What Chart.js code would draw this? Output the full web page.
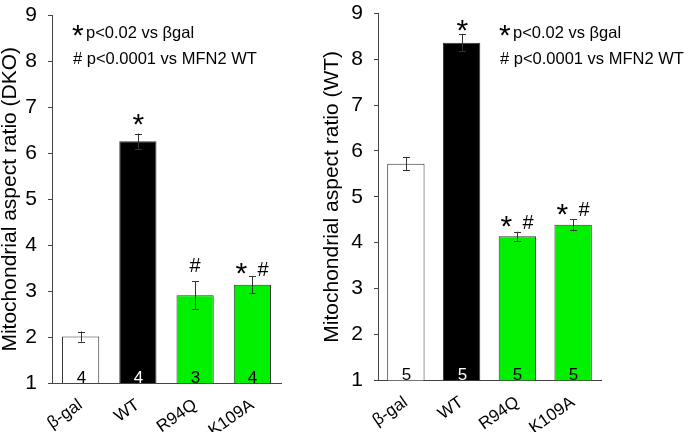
<!DOCTYPE html>
<html><head><meta charset="utf-8">
<script src="https://cdn.jsdelivr.net/npm/chart.js@4"></script>
<style>
body{margin:0;background:#fff;width:688px;height:432px;overflow:hidden;position:relative}
#c1{position:absolute;left:0;top:0}
#c2{position:absolute;left:322px;top:0}
</style></head><body>
<canvas id="c1" width="322" height="432"></canvas>
<canvas id="c2" width="366" height="432"></canvas>
<script>
// ---- data ----
const categories = ['β-gal', 'WT', 'R94Q', 'K109A'];
const dkoMeans  = [2.01, 6.26, 2.91, 3.14];
const dkoErrors = [0.11, 0.17, 0.30, 0.19];
const dkoN      = ['4', '4', '3', '4'];
const dkoStars  = ['', '*', '', '*'];
const dkoHashes = ['', '', '#', '#'];
const wtMeans   = [5.72, 8.36, 4.14, 4.39];
const wtErrors  = [0.14, 0.19, 0.10, 0.12];
const wtN       = ['5', '5', '5', '5'];
const wtStars   = ['', '*', '*', '*'];
const wtHashes  = ['', '', '#', '#'];
const yTicks    = [1, 2, 3, 4, 5, 6, 7, 8, 9];
const legendLine1 = 'p<0.02 vs βgal';
const legendLine2 = '# p<0.0001 vs MFN2 WT';

// ---- styles ----
const FONT = '"Liberation Sans", Arial, Helvetica, sans-serif';
const barColors = ['#ffffff', '#000000', '#00f000', '#00f000'];
const nColors = ['#000000', '#ffffff', '#000000', '#000000'];
Chart.defaults.font.family = FONT;
Chart.defaults.color = '#000';

// draw a glyph so that its ink box is centred on (cx, cy)
function glyphAt(ctx, txt, font, cx, cy) {
  ctx.font = font;
  ctx.textAlign = 'left';
  ctx.textBaseline = 'alphabetic';
  const m = ctx.measureText(txt);
  const w = m.actualBoundingBoxRight + m.actualBoundingBoxLeft;
  const h = m.actualBoundingBoxAscent + m.actualBoundingBoxDescent;
  const x = cx - w / 2 + m.actualBoundingBoxLeft;
  const y = cy + h / 2 - m.actualBoundingBoxDescent;
  ctx.fillText(txt, x, y);
  return w;
}

const extras = {
  id: 'extras',
  afterDatasetsDraw(chart, args, o) {
    const ctx = chart.ctx, xs = chart.scales.x, ys = chart.scales.y, ca = chart.chartArea;
    ctx.save();
    ctx.strokeStyle = '#333'; ctx.lineWidth = 1;
    o.means.forEach((m, i) => {
      const x = Math.round(xs.getPixelForValue(i)) + 0.5;
      const yt = ys.getPixelForValue(m + o.errs[i]);
      const yb = ys.getPixelForValue(m - o.errs[i]);
      // error bar
      ctx.beginPath();
      ctx.moveTo(x, yt); ctx.lineTo(x, yb);
      ctx.moveTo(x - 3.5, Math.round(yt) + 0.5); ctx.lineTo(x + 3.5, Math.round(yt) + 0.5);
      ctx.moveTo(x - 3.5, Math.round(yb) + 0.5); ctx.lineTo(x + 3.5, Math.round(yb) + 0.5);
      ctx.stroke();
      // significance marks
      ctx.fillStyle = '#000';
      const both = o.stars[i] && o.hashes[i];
      if (both) {
        glyphAt(ctx, '*', '30px ' + FONT, x - 11, yt - o.gapBoth);
        glyphAt(ctx, '#', '20px ' + FONT, x + 11, yt - o.gapBoth);
      } else if (o.stars[i]) {
        glyphAt(ctx, '*', '30px ' + FONT, x, yt - o.gapStar);
      } else if (o.hashes[i]) {
        glyphAt(ctx, '#', '20px ' + FONT, x, yt - o.gapHash);
      }
      // n labels
      ctx.font = '17px ' + FONT;
      ctx.textAlign = 'center'; ctx.textBaseline = 'alphabetic';
      ctx.fillStyle = nColors[i];
      ctx.fillText(o.ns[i], x, ca.bottom - 0.5);
    });
    // legend text
    ctx.fillStyle = '#000';
    const lx = ca.left + o.legX;
    const sw = glyphAt(ctx, '*', '30px ' + FONT, lx + 5, o.legStarY);
    ctx.font = '16.5px ' + FONT;
    ctx.textAlign = 'left'; ctx.textBaseline = 'alphabetic';
    ctx.fillText(legendLine1, lx + sw + 1, o.legY1);
    ctx.fillText(legendLine2, lx, o.legY2);
    ctx.restore();
  }
};

function makeChart(id, means, errs, ns, stars, hashes, title, g) {
  return new Chart(document.getElementById(id), {
    type: 'bar',
    data: {
      labels: categories,
      datasets: [{
        data: means,
        backgroundColor: barColors,
        borderColor: '#333',
        borderWidth: 1,
        barPercentage: g.barPct,
        categoryPercentage: 1
      }]
    },
    options: {
      responsive: false,
      animation: false,
      layout: { padding: { left: 0, right: g.padR, top: g.top, bottom: 0 } },
      plugins: {
        legend: { display: false },
        tooltip: { enabled: false },
        extras: {
          means, errs, ns, stars, hashes,
          legX: g.legX, legStarY: 30, legY1: 38, legY2: 64,
          gapStar: g.gapStar, gapHash: g.gapHash, gapBoth: g.gapBoth
        }
      },
      scales: {
        x: {
          grid: { display: false, drawTicks: false },
          border: { display: true, color: '#444', width: 1 },
          ticks: { font: { size: 17 }, color: '#000', minRotation: 35, maxRotation: 35, padding: 12, autoSkip: false },
          afterFit: s => { s.height = g.xH; }
        },
        y: {
          min: 1, max: 9,
          afterBuildTicks: s => { s.ticks = yTicks.map(v => ({ value: v })); },
          ticks: { font: { size: 21, lineHeight: 0.2 }, color: '#000', padding: 11 },
          grid: { drawOnChartArea: false, drawTicks: true, tickLength: 4, color: '#444' },
          border: { display: true, color: '#444', width: 1 },
          title: { display: true, text: title, font: { size: 21, lineHeight: 1 }, padding: 0, color: '#000' },
          afterFit: s => { s.width = g.yW; }
        }
      }
    },
    plugins: [extras]
  });
}

makeChart('c1', dkoMeans, dkoErrors, dkoN, dkoStars, dkoHashes, 'Mitochondrial aspect ratio (DKO)',
  { yW: 52, padR: 41, top: 15.5, xH: 49, barPct: 0.65, legX: 21, gapStar: 14, gapHash: 16.5, gapBoth: 7 });
makeChart('c2', wtMeans, wtErrors, wtN, wtStars, wtHashes, 'Mitochondrial aspect ratio (WT)',
  { yW: 56, padR: 87, top: 13.3, xH: 51.7, barPct: 0.67, legX: 122, gapStar: 8, gapHash: 16.5, gapBoth: 10 });
</script>
</body></html>
